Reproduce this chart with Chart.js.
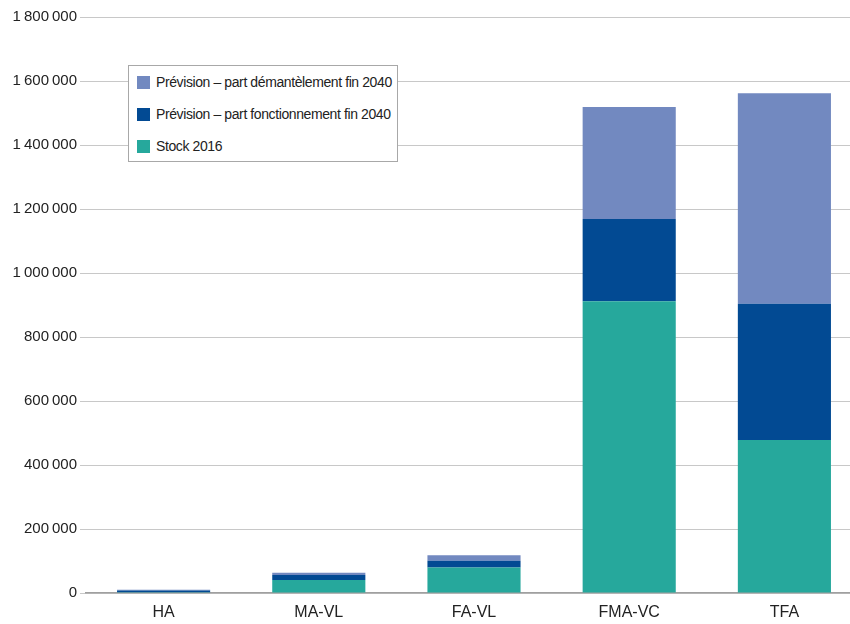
<!DOCTYPE html>
<html>
<head>
<meta charset="utf-8">
<script src="https://cdn.jsdelivr.net/npm/chart.js@4"></script>
<style>
  html, body { margin: 0; padding: 0; background: #fff; overflow: hidden; }
  #wrap { position: relative; width: 862px; height: 624px; }
  #legend {
    position: absolute; left: 128px; top: 65px; width: 268px; height: 95px;
    background: #fff; border: 1px solid #a8a8a8;
    font-family: "Liberation Sans", Arial, sans-serif; font-size: 14px; letter-spacing: -0.4px; color: #222;
  }
  #legend div { position: absolute; left: 8px; height: 16px; line-height: 16px; white-space: nowrap; }
  #legend span { display: inline-block; width: 13px; height: 13px; vertical-align: -2px; margin-right: 6px; }
</style>
</head>
<body>
<div id="wrap">
  <canvas id="chart" width="862" height="624"></canvas>
  <div id="legend"></div>
</div>
<script>
var categories = ["HA", "MA-VL", "FA-VL", "FMA-VC", "TFA"];
var stock2016 = [2000, 41000, 80000, 912000, 478000];
var fonctionnement2040 = [6000, 15000, 21000, 257000, 426000];
var demantelement2040 = [2000, 7000, 17000, 350000, 658000];
var yTicks = [0, 200000, 400000, 600000, 800000, 1000000, 1200000, 1400000, 1600000, 1800000];

var font = "'Liberation Sans', Arial, sans-serif";

function fmt(v) {
  return String(v).replace(/\B(?=(\d{3})+(?!\d))/g, "\u202F");
}

var datasets = [
  { label: "Stock 2016", data: stock2016, backgroundColor: "#26a89c" },
  { label: "Prévision – part fonctionnement fin 2040", data: fonctionnement2040, backgroundColor: "#024a93" },
  { label: "Prévision – part démantèlement fin 2040", data: demantelement2040, backgroundColor: "#7289c0" }
];

// legend box (top item = last dataset)
var legend = document.getElementById("legend");
var rows = [8, 40, 72];
for (var i = 0; i < 3; i++) {
  var ds = datasets[2 - i];
  var item = document.createElement("div");
  item.style.top = rows[i] + "px";
  item.innerHTML = '<span style="background:' + ds.backgroundColor + '"></span>' + ds.label;
  legend.appendChild(item);
}

var chart = new Chart(document.getElementById("chart"), {
  type: "bar",
  data: { labels: categories, datasets: datasets },
  options: {
    responsive: false,
    animation: false,
    layout: { padding: { top: 17, right: 0, bottom: 0, left: 0 } },
    datasets: { bar: { barPercentage: 0.6, categoryPercentage: 1.0 } },
    plugins: { legend: { display: false }, tooltip: { enabled: false } },
    scales: {
      x: {
        stacked: true,
        grid: { display: false },
        border: { display: true, color: "#a0a0a0", width: 1.5 },
        ticks: { color: "#222", font: { family: font, size: 16 }, padding: 2 },
        afterFit: function (axis) { axis.height = 31; }
      },
      y: {
        stacked: true,
        min: 0,
        max: 1800000,
        afterBuildTicks: function (axis) {
          axis.ticks = yTicks.map(function (v) { return { value: v }; });
        },
        afterFit: function (axis) { axis.width = 86; },
        grid: { color: "#c8c8c8", lineWidth: 1, tickLength: 6, tickColor: "#c8c8c8" },
        border: { display: false },
        ticks: {
          color: "#222",
          font: { family: font, size: 15 },
          padding: 3,
          callback: function (v) { return fmt(v); }
        }
      }
    }
  }
});
</script>
</body>
</html>
